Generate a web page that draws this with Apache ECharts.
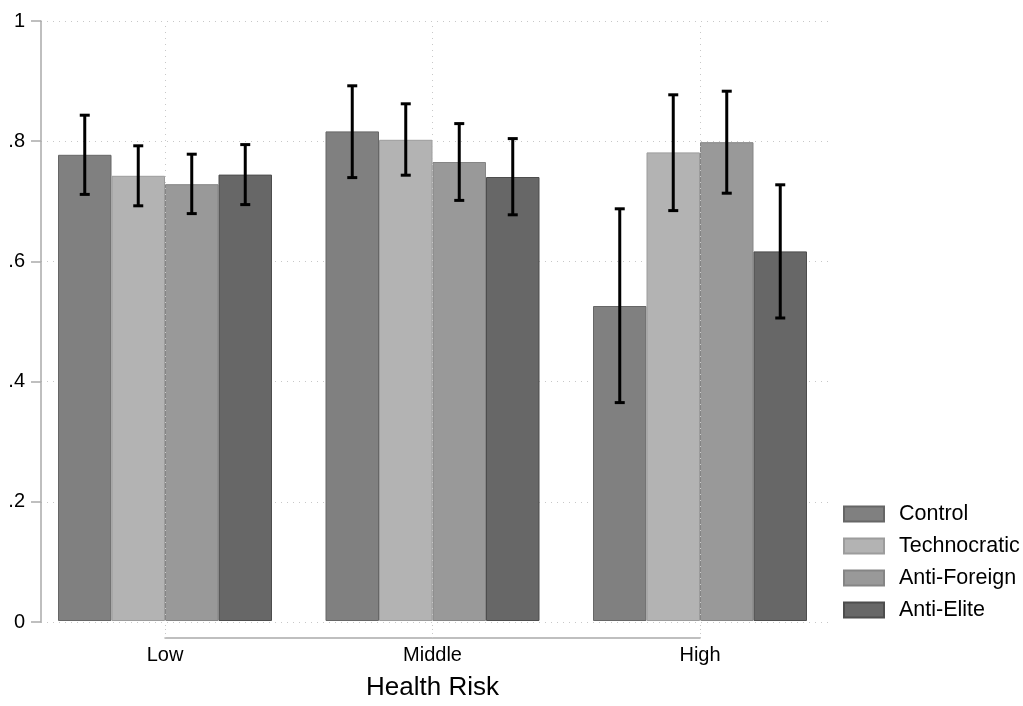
<!DOCTYPE html>
<html>
<head>
<meta charset="utf-8">
<script src="https://cdn.jsdelivr.net/npm/echarts@6/dist/echarts.min.js"></script>
<style>
  html, body { margin: 0; padding: 0; background: #fff; }
  #chart { width: 1023px; height: 706px; }
</style>
</head>
<body>
<div id="chart"></div>
<script>
// categories and series
var categories = ['Low', 'Middle', 'High'];
var treatments = ['Control', 'Technocratic', 'Anti-Foreign', 'Anti-Elite'];
var yTickLabels = ['0', '.2', '.4', '.6', '.8', '1'];

var control      = [0.777, 0.816, 0.525];
var technocratic = [0.742, 0.802, 0.781];
var antiForeign  = [0.728, 0.765, 0.798];
var antiElite    = [0.744, 0.740, 0.616];

// 95% CI bounds
var controlLo      = [0.711, 0.739, 0.364];
var controlHi      = [0.843, 0.892, 0.687];
var technocraticLo = [0.692, 0.743, 0.684];
var technocraticHi = [0.792, 0.862, 0.877];
var antiForeignLo  = [0.679, 0.701, 0.713];
var antiForeignHi  = [0.778, 0.829, 0.883];
var antiEliteLo    = [0.694, 0.677, 0.505];
var antiEliteHi    = [0.794, 0.804, 0.727];

var fills   = ['#808080', '#b3b3b3', '#999999', '#676767'];
var borders = ['#666666', '#9c9c9c', '#858585', '#4d4d4d'];

var means = [control, technocratic, antiForeign, antiElite];
var lows  = [controlLo, technocraticLo, antiForeignLo, antiEliteLo];
var highs = [controlHi, technocraticHi, antiForeignHi, antiEliteHi];

var font = 'Liberation Sans, Arial, sans-serif';
var myChart = echarts.init(document.getElementById('chart'));

var series = [];
// vertical dotted lines at the category centres
series.push({
  name: 'vgrid',
  type: 'line',
  xAxisIndex: 1,
  yAxisIndex: 1,
  data: categories.map(function () { return null; }),
  showSymbol: false,
  silent: true,
  z: 0,
  markLine: {
    silent: true,
    symbol: 'none',
    label: { show: false },
    lineStyle: { color: '#c8c8c8', type: [1, 5], width: 1 },
    data: categories.map(function (c) { return { xAxis: c }; })
  }
});
for (let k = 0; k < treatments.length; k++) {
  series.push({
    name: treatments[k],
    type: 'bar',
    xAxisIndex: 1,
    yAxisIndex: 1,
    data: means[k],
    barGap: '0%',
    barCategoryGap: '20%',
    itemStyle: { color: fills[k], borderColor: borders[k], borderWidth: 1 },
    silent: true,
    z: 2
  });
}
for (let k = 0; k < treatments.length; k++) {
  let ci = categories.map(function (c, i) { return [i, lows[k][i], highs[k][i]]; });
  series.push({
    name: treatments[k] + ' CI',
    type: 'custom',
    xAxisIndex: 1,
    yAxisIndex: 1,
    z: 5,
    silent: true,
    data: ci,
    renderItem: function (params, api) {
      var idx = api.value(0);
      var band = api.size([1, 0])[0];
      var bw = band * 0.8 / treatments.length;
      var pLo = api.coord([idx, api.value(1)]);
      var pHi = api.coord([idx, api.value(2)]);
      var cx = pLo[0] + (k - (treatments.length - 1) / 2) * bw;
      var cap = 5;
      var st = { stroke: '#000', lineWidth: 3 };
      return {
        type: 'group',
        children: [
          { type: 'line', shape: { x1: cx, y1: pLo[1], x2: cx, y2: pHi[1] }, style: st },
          { type: 'line', shape: { x1: cx - cap, y1: pHi[1], x2: cx + cap, y2: pHi[1] }, style: st },
          { type: 'line', shape: { x1: cx - cap, y1: pLo[1], x2: cx + cap, y2: pLo[1] }, style: st }
        ]
      };
    }
  });
}

var option = {
  animation: false,
  backgroundColor: '#fff',
  textStyle: { fontFamily: font },
  grid: [
    { left: 41, right: 195, top: 21, bottom: 84 },
    { left: 31.25, right: 189.25, top: 21, bottom: 84 },
    { left: 165, right: 323, top: 21, bottom: 84 }
  ],
  legend: {
    data: treatments,
    orient: 'vertical',
    left: 838,
    top: 498,
    icon: 'rect',
    itemWidth: 40,
    itemHeight: 15,
    itemGap: 10,
    selectedMode: false,
    textStyle: { fontFamily: font, fontSize: 21.5, color: '#000', padding: [0, 0, 0, 10] }
  },
  xAxis: [
    { gridIndex: 0, type: 'value', min: 0, max: 1, show: false },
    {
      gridIndex: 1,
      type: 'category',
      data: categories,
      axisLine: { show: false },
      axisTick: { show: false },
      axisLabel: { fontFamily: font, fontSize: 20, color: '#000', margin: 24 },
      name: 'Health Risk',
      nameLocation: 'middle',
      nameGap: 54,
      nameTextStyle: { fontFamily: font, fontSize: 26, color: '#000' }
    },
    {
      gridIndex: 2,
      type: 'value',
      min: 0,
      max: 2,
      interval: 1,
      offset: 16,
      axisLine: { show: true, onZero: false, lineStyle: { color: '#aaaaaa', width: 1.5 } },
      axisTick: { show: true, inside: true, length: 15, lineStyle: { color: '#c8c8c8', type: [1, 3] } },
      axisLabel: { show: false },
      splitLine: { show: false }
    }
  ],
  yAxis: [
    {
      gridIndex: 0,
      type: 'value',
      min: 0,
      max: 1,
      interval: 0.2,
      axisLine: { show: true, onZero: false, lineStyle: { color: '#aaaaaa', width: 1.5 } },
      axisTick: { show: true, length: 10, lineStyle: { color: '#aaaaaa', width: 1.5 } },
      axisLabel: {
        fontFamily: font, fontSize: 20, color: '#000', margin: 16,
        formatter: function (v, i) { return yTickLabels[i]; }
      },
      splitLine: { show: true, lineStyle: { color: '#c8c8c8', type: [1, 5], width: 1 } }
    },
    { gridIndex: 1, type: 'value', min: 0, max: 1, show: false },
    { gridIndex: 2, type: 'value', min: 0, max: 1, show: false }
  ],
  series: series
};

myChart.setOption(option);
</script>
</body>
</html>
